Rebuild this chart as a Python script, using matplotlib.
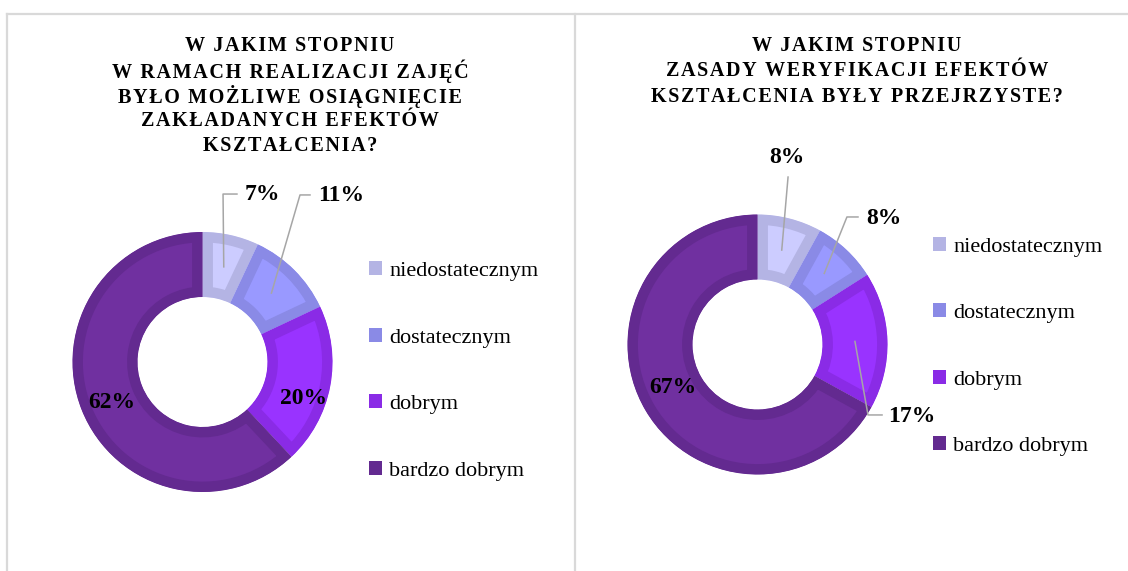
import matplotlib
matplotlib.use("Agg")
import matplotlib.pyplot as plt
from matplotlib.patches import Patch
from matplotlib.lines import Line2D
import numpy as np

# dane
kategorie = ["niedostatecznym", "dostatecznym", "dobrym", "bardzo dobrym"]
osiagniecie = [7, 11, 20, 62]
weryfikacja = [8, 8, 17, 67]
tytul_1 = ["W JAKIM STOPNIU", "W RAMACH REALIZACJI ZAJĘĆ", "BYŁO MOŻLIWE OSIĄGNIĘCIE",
           "ZAKŁADANYCH EFEKTÓW", "KSZTAŁCENIA?"]
tytul_2 = ["W JAKIM STOPNIU", "ZASADY WERYFIKACJI EFEKTÓW", "KSZTAŁCENIA BYŁY PRZEJRZYSTE?"]

wypelnienie = ["#CCCCFF", "#9999FF", "#9933FF", "#7030A0"]
obramowanie = ["#B4B4E4", "#8A8AE6", "#8A2BE6", "#632A90"]
SERIF = ["Liberation Serif", "DejaVu Serif"]
SZARY = "#A6A6A6"

W, H = 1128, 571
fig = plt.figure(figsize=(W / 100, H / 100), dpi=100)


def fx(x):
    return x / W


def fy(y):
    return 1 - y / H


# ramki paneli
for xs, ys in [([6.5, 6.5], [H, 13.5]), ([6.5, W], [13.5, 13.5]), ([575, 575], [13.5, H])]:
    fig.add_artist(Line2D([fx(v) for v in xs], [fy(v) for v in ys], color="#D9D9D9", lw=1.6))


def tytul(linie, cx, y0, dy):
    for i, linia in enumerate(linie):
        fig.text(fx(cx), fy(y0 + i * dy), "\u200a".join(linia), ha="center", va="center",
                 fontsize=14.5, fontweight="bold", family=SERIF)


def donut(cx, cy, r, wartosci, opisy):
    ext = 1.8
    ax = fig.add_axes([(cx - ext * r) / W, 1 - (cy + ext * r) / H, 2 * ext * r / W, 2 * ext * r / H])
    wedges, _ = ax.pie(wartosci, colors=wypelnienie, startangle=90, counterclock=False,
                       radius=1, wedgeprops=dict(width=0.5))
    ax.set_xlim(-ext, ext)
    ax.set_ylim(-ext, ext)
    ax.axis("off")
    # obramowanie od wewnatrz wycinka (jak w Excelu)
    for w, c in zip(wedges, obramowanie):
        w.set_edgecolor(c)
        w.set_linewidth(15)
        w.set_clip_on(True)
        w.set_clip_path(w)
    for w, v, op in zip(wedges, wartosci, opisy):
        tx, ty, lamana = op
        if lamana is not None:
            kat = np.deg2rad((w.theta1 + w.theta2) / 2)
            px = [0.75 * np.cos(kat)] + [p[0] for p in lamana]
            py = [0.75 * np.sin(kat)] + [p[1] for p in lamana]
            ax.plot(px, py, color=SZARY, lw=1.1)
        ax.text(tx, ty, f"{v}%", ha="center", va="center", fontsize=17,
                fontweight="bold", family=SERIF)
    return ax


def legenda(x, ycent):
    uchwyty = [Patch(facecolor=c, edgecolor="none") for c in obramowanie]
    fig.legend(uchwyty, kategorie, loc="center left", bbox_to_anchor=(fx(x), fy(ycent)),
               frameon=False, borderpad=0, borderaxespad=0, labelspacing=2.1,
               handlelength=0.6, handleheight=0.6, handletextpad=0.3,
               prop=dict(family=SERIF, size=16))


# panel lewy
tytul(tytul_1, 290, 46, 25)
donut(202.5, 362, 130, osiagniecie, [
    (0.458, 1.285, [(0.158, 1.292), (0.265, 1.292)]),
    (1.065, 1.277, [(0.75, 1.285), (0.827, 1.285)]),
    (0.777, -0.277, None),
    (-0.696, -0.308, None),
])
legenda(369, 371)

# panel prawy
tytul(tytul_2, 857, 46, 25.5)
donut(757.5, 344.5, 130, weryfikacja, [
    (0.227, 1.435, [(0.235, 1.288)]),
    (0.973, 0.973, [(0.688, 0.981), (0.773, 0.981)]),
    (1.188, -0.55, [(0.85, -0.542), (0.958, -0.542)]),
    (-0.65, -0.327, None),
])
legenda(933, 346.5)

fig.savefig("out.png", dpi=100, facecolor="white")
